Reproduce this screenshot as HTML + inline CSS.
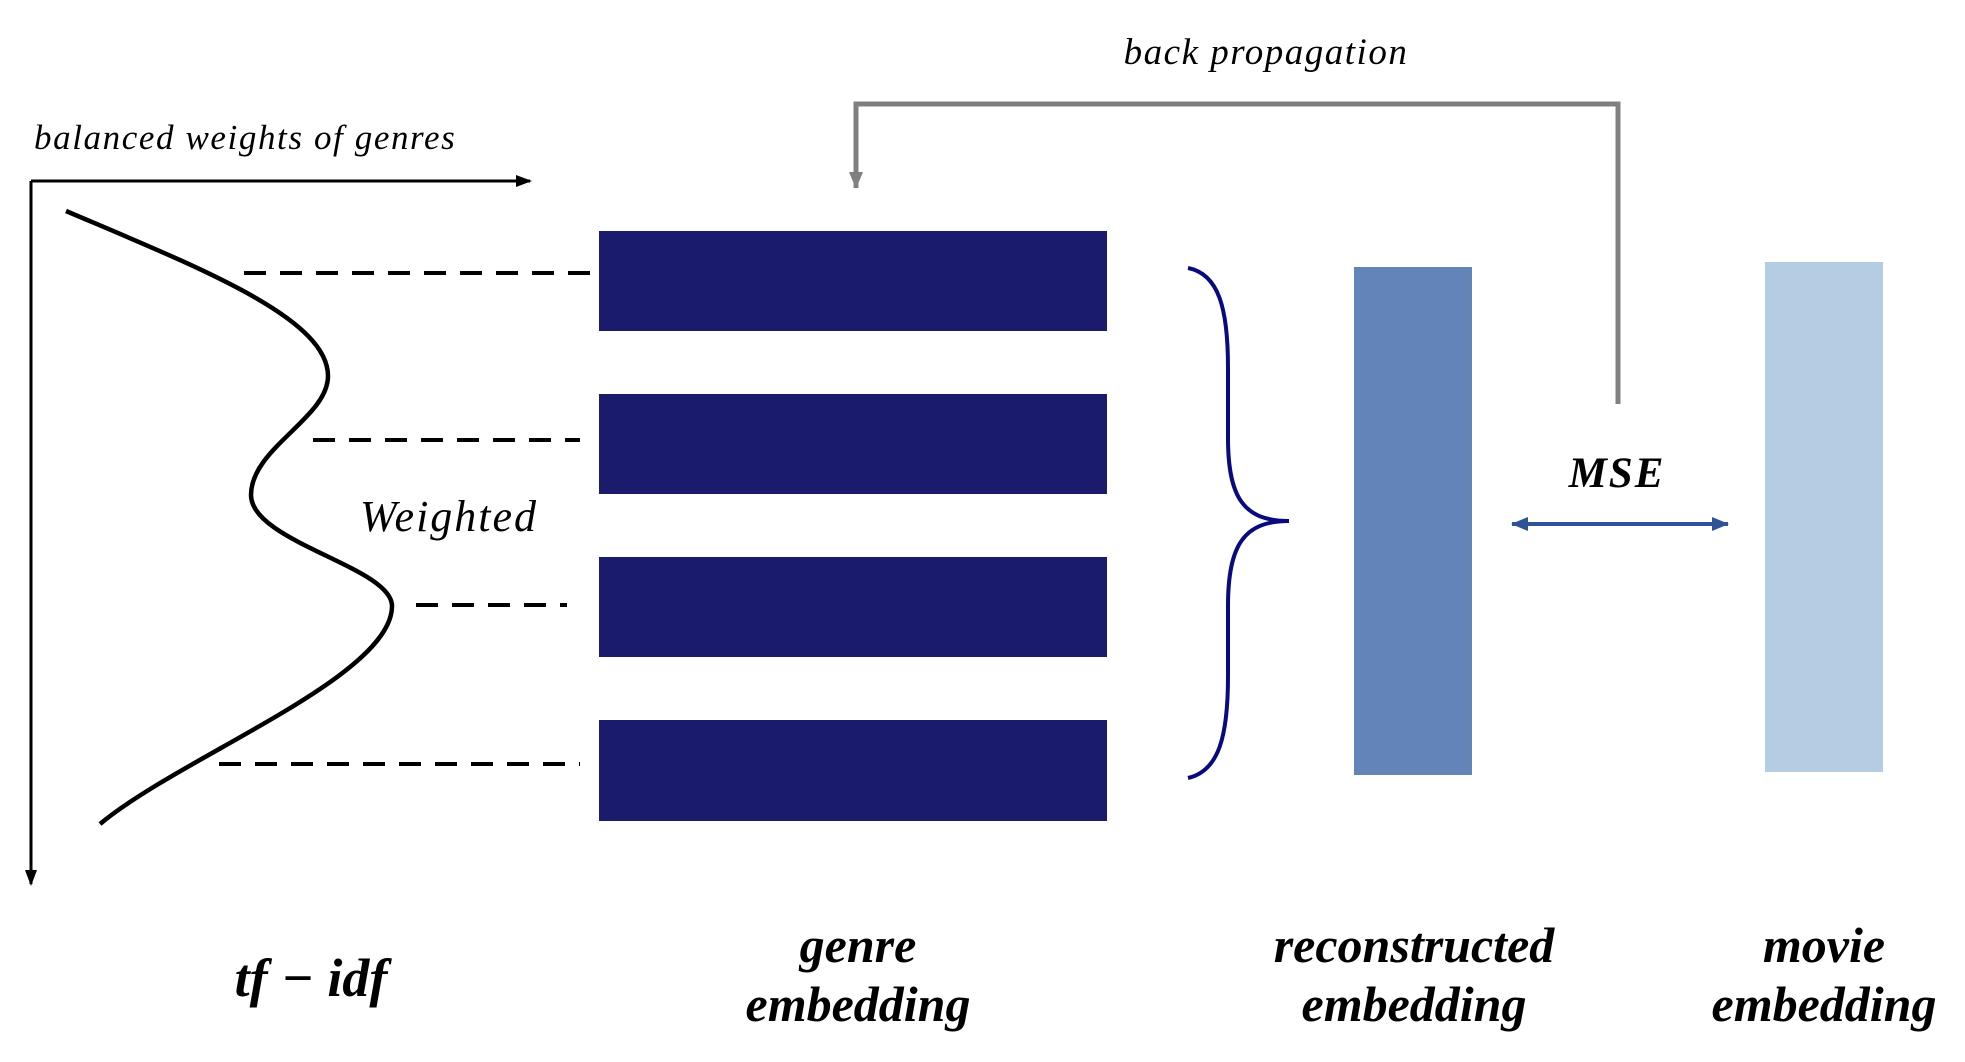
<!DOCTYPE html>
<html><head><meta charset="utf-8"><style>body{margin:0;background:#fff}svg{display:block}</style></head><body>
<svg width="1965" height="1062" viewBox="0 0 1965 1062" xmlns="http://www.w3.org/2000/svg" font-family="Liberation Serif, serif" font-style="italic">
<defs>
<marker id="ab" markerWidth="16" markerHeight="16" refX="14" refY="8" orient="auto" markerUnits="userSpaceOnUse"><path d="M0,2 L16,8 L0,14 Z" fill="#000"/></marker>
<marker id="ag" markerWidth="18" markerHeight="18" refX="16" refY="9" orient="auto" markerUnits="userSpaceOnUse"><path d="M0,2 L17,9 L0,16 Z" fill="#808080"/></marker>
<marker id="au" markerWidth="18" markerHeight="18" refX="16" refY="9" orient="auto-start-reverse" markerUnits="userSpaceOnUse"><path d="M0,2 L17,9 L0,16 Z" fill="#2f5496"/></marker>
</defs>
<text x="34" y="149" font-size="35" letter-spacing="1.6">balanced weights of genres</text>
<line x1="31" y1="181" x2="530" y2="181" stroke="#000" stroke-width="3" marker-end="url(#ab)"/>
<line x1="31" y1="181" x2="31" y2="884" stroke="#000" stroke-width="3" marker-end="url(#ab)"/>
<path d="M66,211 C200,268 328,318 328,376 C328,418 251,448 251,495 C251,542 392,567 392,606 C392,677 180,757 100,824" fill="none" stroke="#000" stroke-width="4.5"/>
<g stroke="#000" stroke-width="4" stroke-dasharray="22,14">
<line x1="244" y1="273" x2="592" y2="273"/>
<line x1="313" y1="440" x2="580" y2="440"/>
<line x1="416" y1="605" x2="567" y2="605"/>
<line x1="219" y1="764" x2="580" y2="764"/>
</g>
<g fill="#1b1b6d">
<rect x="599" y="231" width="508" height="100"/>
<rect x="599" y="394" width="508" height="100"/>
<rect x="599" y="557" width="508" height="100"/>
<rect x="599" y="720" width="508" height="101"/>
</g>
<path d="M1188,268 C1219,274 1228,309 1228,368 L1228,438 C1228,498 1244,521 1289,521 C1244,521 1228,545 1228,606 L1228,676 C1228,736 1219,771 1188,778" fill="none" stroke="#0a0a80" stroke-width="4"/>
<rect x="1354" y="267" width="118" height="508" fill="#6384b8"/>
<rect x="1765" y="262" width="118" height="510" fill="#b5cde2"/>
<polyline points="1618,404 1618,104 856,104 856,188" fill="none" stroke="#808080" stroke-width="5" marker-end="url(#ag)"/>
<text x="1266" y="64" font-size="37" letter-spacing="1.5" text-anchor="middle">back propagation</text>
<text x="1617" y="487" font-size="43" font-weight="bold" letter-spacing="2" text-anchor="middle">MSE</text>
<line x1="1512" y1="524" x2="1728" y2="524" stroke="#2f5496" stroke-width="4" marker-start="url(#au)" marker-end="url(#au)"/>
<text x="449" y="531" font-size="44" letter-spacing="2" text-anchor="middle">Weighted</text>
<text x="311" y="996" font-size="54" font-weight="bold" text-anchor="middle">tf − idf</text>
<g font-size="50" font-weight="bold" text-anchor="middle">
<text x="858" y="962">genre</text><text x="858" y="1021">embedding</text>
<text x="1414" y="962">reconstructed</text><text x="1414" y="1021">embedding</text>
<text x="1824" y="962">movie</text><text x="1824" y="1021">embedding</text>
</g>
</svg>
</body></html>
